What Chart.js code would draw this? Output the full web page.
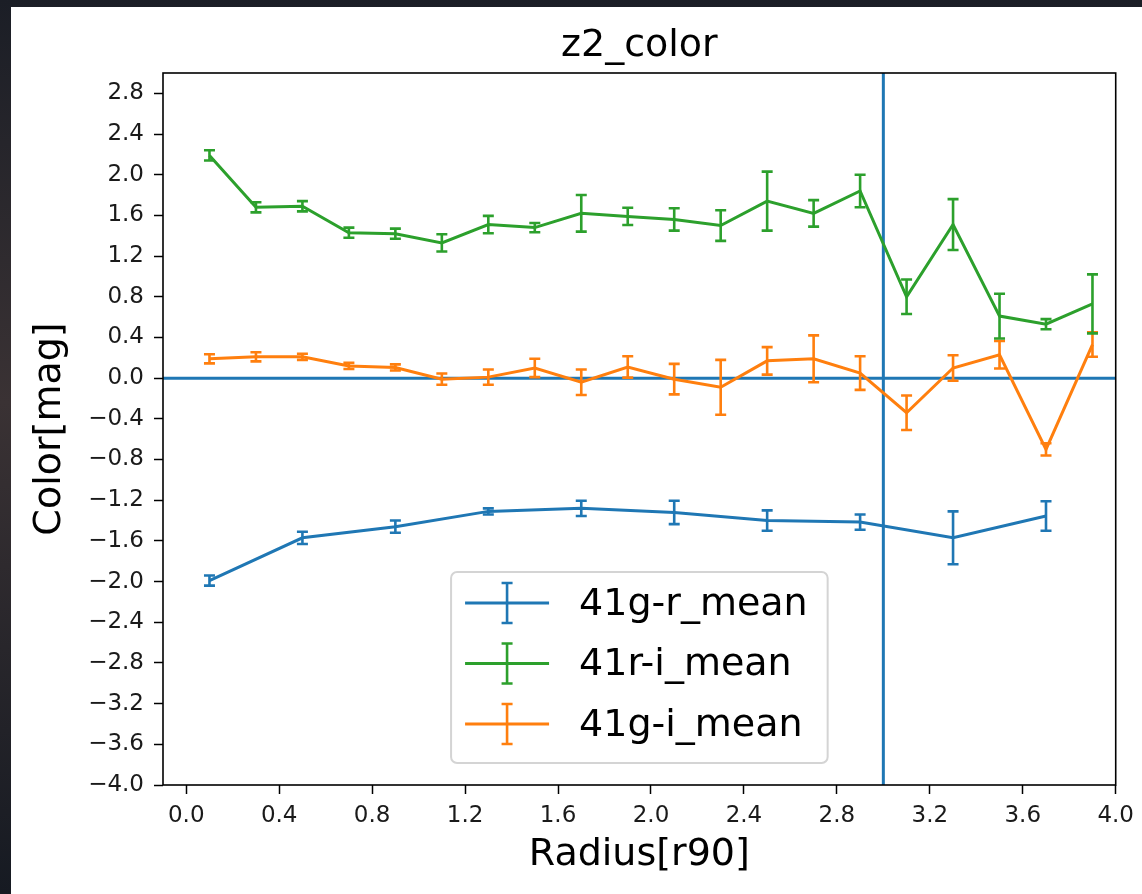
<!DOCTYPE html>
<html>
<head>
<meta charset="utf-8">
<title>z2_color</title>
<script src="https://cdn.jsdelivr.net/npm/chart.js@4.4.1/dist/chart.umd.min.js"></script>
<style>
  html, body { margin: 0; padding: 0; background: #1c2028; }
  #wrap { width: 1142px; height: 894px; }
</style>
</head>
<body>
<div id="wrap"><canvas id="colorChart" width="1142" height="894"></canvas></div>
<script>
// radius bins (in units of r90)
const radiusFine = [0.1, 0.3, 0.5, 0.7, 0.9, 1.1, 1.3, 1.5, 1.7, 1.9, 2.1, 2.3, 2.5, 2.7, 2.9, 3.1, 3.3, 3.5, 3.7, 3.9];
const radiusCoarse = [0.1, 0.5, 0.9, 1.3, 1.7, 2.1, 2.5, 2.9, 3.3, 3.7];

// g-r colour, coarse bins
const grMean = [-1.99, -1.57, -1.46, -1.31, -1.28, -1.32, -1.40, -1.415, -1.57, -1.355];
const grErr  = [0.05, 0.06, 0.06, 0.03, 0.075, 0.115, 0.10, 0.075, 0.26, 0.145];

// r-i colour
const riMean = [2.19, 1.68, 1.69, 1.43, 1.42, 1.33, 1.51, 1.48, 1.62, 1.59, 1.56, 1.50, 1.74, 1.62, 1.84, 0.80, 1.51, 0.61, 0.53, 0.73];
const riErr  = [0.05, 0.05, 0.05, 0.05, 0.05, 0.085, 0.085, 0.045, 0.18, 0.085, 0.11, 0.15, 0.29, 0.13, 0.16, 0.17, 0.25, 0.22, 0.05, 0.29];

// g-i colour
const giMean = [0.19, 0.21, 0.21, 0.12, 0.105, -0.01, 0.01, 0.10, -0.04, 0.11, -0.01, -0.09, 0.17, 0.19, 0.05, -0.34, 0.10, 0.23, -0.70, 0.33];
const giErr  = [0.045, 0.045, 0.03, 0.03, 0.03, 0.055, 0.075, 0.09, 0.125, 0.105, 0.15, 0.27, 0.135, 0.23, 0.165, 0.17, 0.125, 0.135, 0.06, 0.12];

const seriesLabels = ['41g-r_mean', '41r-i_mean', '41g-i_mean'];
const seriesColors = ['#1f77b4', '#2ca02c', '#ff7f0e'];

// reference lines
const zeroColor = 0.0;
const cutRadius = 3.0;

const FONT = "'DejaVu Sans', 'Liberation Sans', sans-serif";
const chartTitle = 'z2_color';

const toPoints = (xs, ys) => xs.map((x, i) => ({ x: x, y: ys[i] }));

const fmtTick = (v) => {
    const r = Math.round(v * 10) / 10;
    if (Math.abs(r) < 1e-9) return '0.0';
    return (r < 0 ? '\u2212' : '') + Math.abs(r).toFixed(1);
};

// dark frame + white figure panel
const backdrop = {
    id: 'backdrop',
    beforeDraw(chart) {
        const { ctx, width, height } = chart;
        ctx.save();
        const g = ctx.createLinearGradient(0, 0, 0, height);
        g.addColorStop(0, '#1b1e26');
        g.addColorStop(0.45, '#3a3234');
        g.addColorStop(1, '#161a22');
        ctx.fillStyle = g;
        ctx.fillRect(0, 0, width, height);
        ctx.fillStyle = '#ffffff';
        ctx.fillRect(11, 7, width - 11, height - 7);
        ctx.restore();
    }
};

// title centred over the axes, not the whole canvas
const axesTitle = {
    id: 'axesTitle',
    afterDraw(chart) {
        const { ctx, chartArea: a } = chart;
        ctx.save();
        ctx.font = `38px ${FONT}`;
        ctx.fillStyle = '#000';
        ctx.textAlign = 'center';
        ctx.textBaseline = 'alphabetic';
        ctx.fillText(chartTitle, (a.left + a.right) / 2, a.top - 17);
        ctx.restore();
    }
};

// axhline / axvline
const refLines = {
    id: 'refLines',
    beforeDatasetsDraw(chart) {
        const { ctx, chartArea, scales } = chart;
        const y0 = scales.y.getPixelForValue(zeroColor);
        const x0 = scales.x.getPixelForValue(cutRadius);
        ctx.save();
        ctx.strokeStyle = '#1f77b4';
        ctx.lineWidth = 3;
        ctx.beginPath();
        ctx.moveTo(chartArea.left, y0);
        ctx.lineTo(chartArea.right, y0);
        ctx.moveTo(x0, chartArea.top);
        ctx.lineTo(x0, chartArea.bottom);
        ctx.stroke();
        ctx.restore();
    }
};

// vertical error bars with caps, drawn right after each line
const errorBars = {
    id: 'errorBars',
    afterDatasetDraw(chart, args) {
        const ds = chart.data.datasets[args.index];
        if (!ds.errors) return;
        const { ctx, scales } = chart;
        const cap = 5.5;
        ctx.save();
        ctx.strokeStyle = ds.borderColor;
        ctx.lineWidth = 2.6;
        ds.data.forEach((p, i) => {
            const e = ds.errors[i];
            const x = scales.x.getPixelForValue(p.x);
            const yTop = scales.y.getPixelForValue(p.y + e);
            const yBot = scales.y.getPixelForValue(p.y - e);
            ctx.beginPath();
            ctx.moveTo(x, yTop);
            ctx.lineTo(x, yBot);
            ctx.moveTo(x - cap, yTop);
            ctx.lineTo(x + cap, yTop);
            ctx.moveTo(x - cap, yBot);
            ctx.lineTo(x + cap, yBot);
            ctx.stroke();
        });
        ctx.restore();
    }
};

// axes frame (all four spines)
const frame = {
    id: 'frame',
    afterDatasetsDraw(chart) {
        const { ctx, chartArea: a } = chart;
        ctx.save();
        ctx.strokeStyle = '#000';
        ctx.lineWidth = 1.6;
        ctx.strokeRect(a.left, a.top, a.right - a.left, a.bottom - a.top);
        ctx.restore();
    }
};

// errorbar-style legend, lower centre of the axes
const errLegend = {
    id: 'errLegend',
    afterDraw(chart) {
        const { ctx, chartArea: a } = chart;
        const items = chart.data.datasets.filter(d => d.errors);
        const fontSize = 38;
        ctx.save();
        ctx.font = `${fontSize}px ${FONT}`;
        const textW = Math.max(...items.map(d => ctx.measureText(d.label).width));
        const rowH = 60.5;
        const boxW = 128 + textW + 20;
        const boxH = 191;
        const bx = (a.left + a.right) / 2 - boxW / 2;
        const by = a.bottom - 22 - boxH;

        ctx.beginPath();
        ctx.roundRect(bx, by, boxW, boxH, 6);
        ctx.fillStyle = 'rgba(255,255,255,0.85)';
        ctx.fill();
        ctx.strokeStyle = '#d4d4d4';
        ctx.lineWidth = 2;
        ctx.stroke();

        items.forEach((d, i) => {
            const cy = by + 31 + i * rowH;
            const hx0 = bx + 14, hx1 = bx + 98, hx = (hx0 + hx1) / 2;
            ctx.strokeStyle = d.borderColor;
            ctx.lineWidth = 3;
            ctx.beginPath();
            ctx.moveTo(hx0, cy);
            ctx.lineTo(hx1, cy);
            ctx.stroke();
            ctx.lineWidth = 2.6;
            ctx.beginPath();
            ctx.moveTo(hx, cy - 20);
            ctx.lineTo(hx, cy + 20);
            ctx.moveTo(hx - 5.5, cy - 20);
            ctx.lineTo(hx + 5.5, cy - 20);
            ctx.moveTo(hx - 5.5, cy + 20);
            ctx.lineTo(hx + 5.5, cy + 20);
            ctx.stroke();

            ctx.fillStyle = '#000';
            ctx.textAlign = 'left';
            ctx.textBaseline = 'middle';
            ctx.fillText(d.label, bx + 128, cy + 2);
        });
        ctx.restore();
    }
};

const makeSeries = (label, color, xs, ys, errs) => ({
    label: label,
    data: toPoints(xs, ys),
    errors: errs,
    borderColor: color,
    backgroundColor: color,
    borderWidth: 3,
    showLine: true,
    pointRadius: 0,
    pointHoverRadius: 0,
    tension: 0,
    fill: false
});

new Chart(document.getElementById('colorChart'), {
    type: 'scatter',
    data: {
        datasets: [
            makeSeries(seriesLabels[0], seriesColors[0], radiusCoarse, grMean, grErr),
            makeSeries(seriesLabels[1], seriesColors[1], radiusFine, riMean, riErr),
            makeSeries(seriesLabels[2], seriesColors[2], radiusFine, giMean, giErr)
        ]
    },
    options: {
        responsive: false,
        animation: false,
        devicePixelRatio: 1,
        layout: { padding: { left: 0, right: 25, top: 73, bottom: 0 } },
        plugins: {
            legend: { display: false },
            tooltip: { enabled: false },
            title: { display: false }
        },
        scales: {
            x: {
                type: 'linear',
                min: -0.1,
                max: 4.0,
                afterFit: (s) => { s.height = 109; },
                border: { display: false },
                grid: { drawOnChartArea: false, drawTicks: true, tickLength: 9, tickColor: '#000', tickWidth: 1.5 },
                ticks: {
                    stepSize: 0.4,
                    includeBounds: false,
                    autoSkip: false,
                    maxRotation: 0,
                    padding: 8,
                    color: '#1a1a1a',
                    font: { family: FONT, size: 23 },
                    callback: (v) => fmtTick(v)
                },
                title: {
                    display: true,
                    text: 'Radius[r90]',
                    color: '#000',
                    font: { family: FONT, size: 38 },
                    padding: { top: 0, bottom: 16 }
                }
            },
            y: {
                type: 'linear',
                min: -4.0,
                max: 3.0,
                afterFit: (s) => { s.width = 163; },
                border: { display: false },
                grid: { drawOnChartArea: false, drawTicks: true, tickLength: 9, tickColor: '#000', tickWidth: 1.5 },
                ticks: {
                    stepSize: 0.4,
                    includeBounds: false,
                    autoSkip: false,
                    padding: 10,
                    color: '#1a1a1a',
                    font: { family: FONT, size: 23 },
                    callback: (v) => fmtTick(v)
                },
                title: {
                    display: true,
                    text: 'Color[mag]',
                    color: '#000',
                    font: { family: FONT, size: 38 },
                    padding: { top: 27, bottom: 0 }
                }
            }
        }
    },
    plugins: [backdrop, refLines, errorBars, frame, axesTitle, errLegend]
});
</script>
</body>
</html>
